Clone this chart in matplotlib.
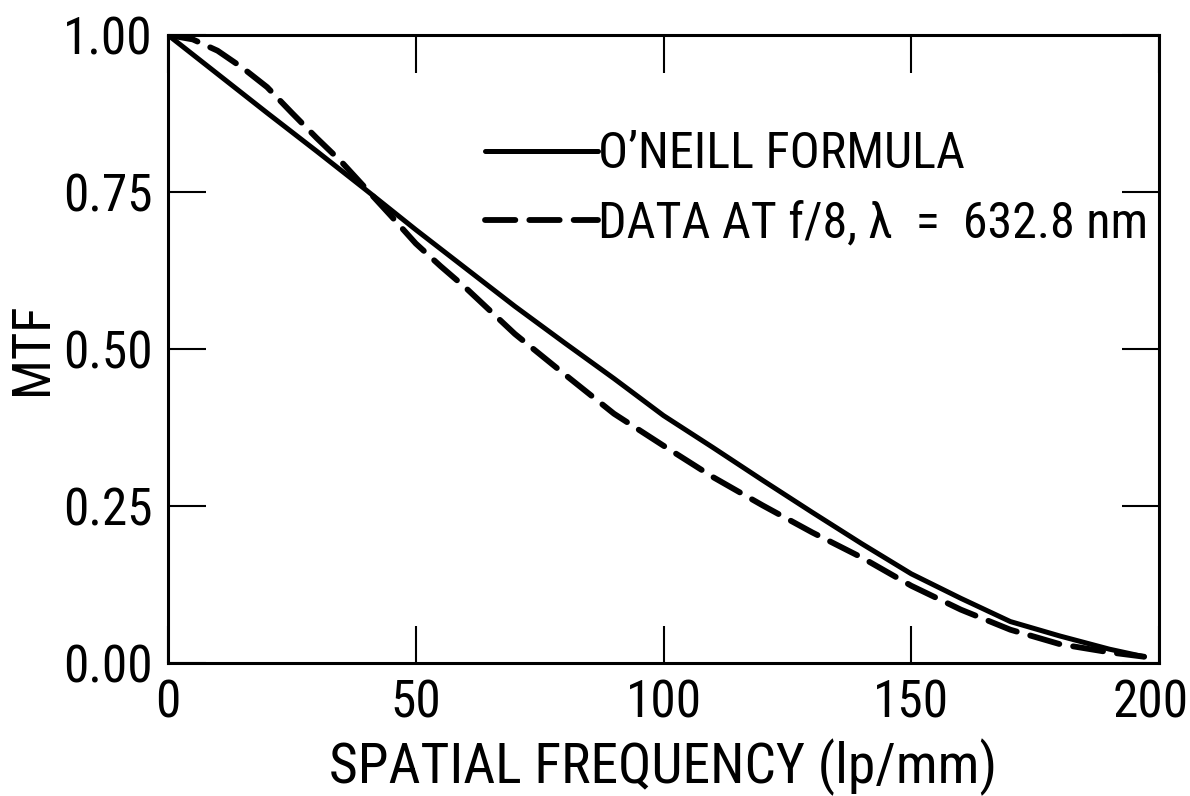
import numpy as np
import matplotlib
matplotlib.use("Agg")
import matplotlib.pyplot as plt
from matplotlib.ticker import FormatStrFormatter
import matplotlib.transforms as mtransforms

plt.rcParams['font.family'] = ['Roboto Condensed', 'DejaVu Sans']

# O'Neill formula (solid)
freq_solid = [0, 10, 20, 30, 40, 50, 60, 70, 80, 90, 100, 110, 120, 130, 140, 150, 160, 170, 180, 190, 197]
mtf_solid = [1.000, 0.938, 0.876, 0.815, 0.753, 0.690, 0.629, 0.568, 0.510, 0.453, 0.394,
             0.343, 0.291, 0.240, 0.190, 0.142, 0.103, 0.066, 0.043, 0.022, 0.010]

# measured data at f/8 (dashed)
freq_data = [0, 5, 10, 15, 20, 25, 30, 35, 40, 45, 50, 55, 60, 70, 80, 90, 100, 110, 120, 130,
             140, 150, 160, 170, 180, 190, 197]
mtf_data = [1.000, 0.993, 0.975, 0.948, 0.917, 0.876, 0.836, 0.798, 0.755, 0.712, 0.668, 0.632,
            0.598, 0.524, 0.460, 0.397, 0.346, 0.296, 0.251, 0.208, 0.168, 0.123, 0.085, 0.053,
            0.030, 0.017, 0.010]

xticks = [0, 50, 100, 150, 200]
yticks = [0.00, 0.25, 0.50, 0.75, 1.00]

fig = plt.figure(figsize=(11.9, 7.96), dpi=100)
ax = fig.add_axes([168 / 1190, 1 - 663 / 796, 991 / 1190, 628 / 796])

ax.plot(freq_solid, mtf_solid, color='black', lw=3.6, solid_capstyle='round',
        label="O’NEILL FORMULA")
ax.plot(freq_data, mtf_data, color='black', lw=4.2, dashes=(5.2, 2.4),
        dash_capstyle='round', label="DATA AT f/8, λ  =  632.8 nm")

ax.set_xlim(0, 200)
ax.set_ylim(0, 1)
ax.set_xticks(xticks)
ax.set_yticks(yticks)
ax.yaxis.set_major_formatter(FormatStrFormatter('%.2f'))
ax.tick_params(direction='in', length=27, width=1.5, labelsize=37, pad=11,
               top=True, right=True)
for s in ax.spines.values():
    s.set_linewidth(2.2)

# last x label sits a bit left of the corner in the original
lab = ax.get_xticklabels()[-1]
lab.set_transform(lab.get_transform() + mtransforms.ScaledTranslation(-8 / 100, 0, fig.dpi_scale_trans))

ax.set_xlabel('SPATIAL FREQUENCY (lp/mm)', fontsize=40, labelpad=7)
ax.set_ylabel('MTF', fontsize=38)
ax.yaxis.set_label_coords(-0.111, 0.5)

ax.legend(loc='upper left', bbox_to_anchor=(0.32, 0.848), frameon=False, fontsize=36,
          handlelength=2.25, handletextpad=0.0, labelspacing=0.42, borderaxespad=0,
          borderpad=0)

fig.savefig('out.png', dpi=100)
